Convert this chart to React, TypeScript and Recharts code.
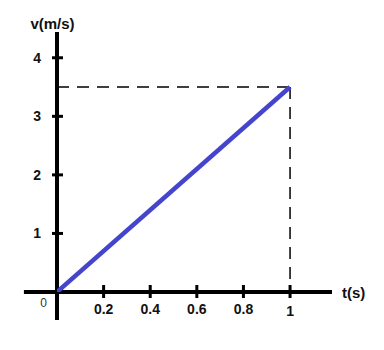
import React from 'react';
import { LineChart, Line, XAxis, YAxis, ReferenceLine } from 'recharts';

// Data
const timeValues = [0, 1];
const velocityValues = [0, 3.5];
const xTicks = [0, 0.2, 0.4, 0.6, 0.8, 1];
const xTickLabels = ['0', '0.2', '0.4', '0.6', '0.8', '1'];
const yTicks = [1, 2, 3, 4];
const yTickLabels = ['1', '2', '3', '4'];
const xDomain = [0, 1.18];
const yDomain = [0, 4.44];
const xAxisExtent = [-0.142, 1.18];
const yAxisExtent = [-0.48, 4.44];
const xTitle = 't(s)';
const yTitle = 'v(m/s)';

const data = timeValues.map((t, i) => ({ t, v: velocityValues[i] }));
const finalT = timeValues[timeValues.length - 1];
const finalV = velocityValues[velocityValues.length - 1];

const FONT = '"Liberation Sans", Arial, sans-serif';

const XTick = (props: any) => {
  const { x, y, payload } = props;
  const idx = xTicks.indexOf(payload.value);
  const label = idx >= 0 ? xTickLabels[idx] : String(payload.value);
  if (payload.value === 0) {
    return (
      <text x={x - 13.5} y={y + 15} textAnchor="middle" fontFamily={FONT} fontSize={12} fill="#333">
        {label}
      </text>
    );
  }
  return (
    <g>
      <line x1={x} x2={x} y1={y - 7} y2={y + 6} stroke="#000" strokeWidth={3} />
      <text
        x={x}
        y={y + (payload.value === 1 ? 24 : 22)}
        textAnchor="middle"
        fontFamily={FONT}
        fontWeight="bold"
        fontSize={14}
        fill="#111"
      >
        {label}
      </text>
    </g>
  );
};

const YTick = (props: any) => {
  const { x, y, payload } = props;
  const idx = yTicks.indexOf(payload.value);
  const label = idx >= 0 ? yTickLabels[idx] : String(payload.value);
  return (
    <g>
      <line x1={x - 5} x2={x + 6} y1={y} y2={y} stroke="#000" strokeWidth={3} />
      <text x={x - 16} y={y + 5} textAnchor="end" fontFamily={FONT} fontWeight="bold" fontSize={14} fill="#111">
        {label}
      </text>
    </g>
  );
};

const YTitle = (props: any) => {
  const vb = props.viewBox || {};
  return (
    <text
      x={vb.x + vb.width - 4.5}
      y={vb.y - 3}
      textAnchor="middle"
      fontFamily={FONT}
      fontWeight="bold"
      fontSize={15}
      fill="#111"
    >
      {yTitle}
    </text>
  );
};

const XTitle = (props: any) => {
  const vb = props.viewBox || {};
  return (
    <text
      x={vb.x + vb.width + 10}
      y={vb.y + 6}
      textAnchor="start"
      fontFamily={FONT}
      fontWeight="bold"
      fontSize={15}
      fill="#111"
    >
      {xTitle}
    </text>
  );
};

export default function App() {
  return (
    <div style={{ position: 'absolute', left: 0, top: 0, background: '#fff' }}>
      <LineChart width={384} height={350} data={data} margin={{ top: 32, right: 52, left: 0, bottom: 0 }}>
        <XAxis
          dataKey="t"
          type="number"
          domain={xDomain}
          allowDataOverflow
          ticks={xTicks}
          interval={0}
          axisLine={false}
          tickLine={false}
          tickSize={0}
          tickMargin={0}
          height={58}
          tick={<XTick />}
          label={<XTitle />}
        />
        <YAxis
          type="number"
          domain={yDomain}
          allowDataOverflow
          ticks={yTicks}
          interval={0}
          axisLine={false}
          tickLine={false}
          tickSize={0}
          tickMargin={0}
          width={57}
          tick={<YTick />}
          label={<YTitle />}
        />
        <ReferenceLine
          segment={[{ x: 0, y: finalV }, { x: finalT, y: finalV }]}
          stroke="#000"
          strokeWidth={1.5}
          strokeDasharray="12 8"
          ifOverflow="visible"
        />
        <ReferenceLine
          segment={[{ x: finalT, y: finalV }, { x: finalT, y: 0 }]}
          stroke="#000"
          strokeWidth={1.5}
          strokeDasharray="12 8"
          ifOverflow="visible"
        />
        <ReferenceLine
          segment={[{ x: xAxisExtent[0], y: 0 }, { x: xAxisExtent[1], y: 0 }]}
          stroke="#000"
          strokeWidth={4}
          ifOverflow="visible"
        />
        <ReferenceLine
          segment={[{ x: 0, y: yAxisExtent[0] }, { x: 0, y: yAxisExtent[1] }]}
          stroke="#000"
          strokeWidth={4}
          ifOverflow="visible"
        />
        <Line
          dataKey="v"
          type="linear"
          stroke="#4444cc"
          strokeWidth={4.5}
          dot={false}
          activeDot={false}
          isAnimationActive={false}
        />
      </LineChart>
    </div>
  );
}
